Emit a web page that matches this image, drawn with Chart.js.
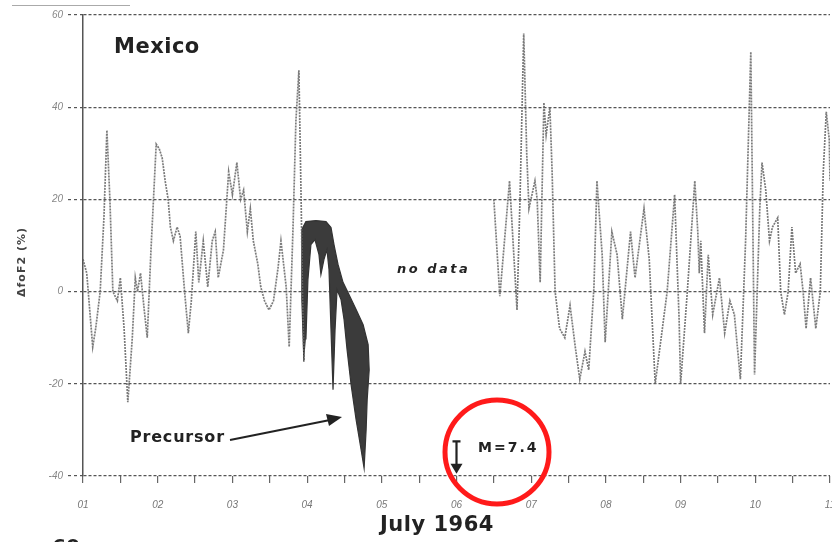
<!DOCTYPE html>
<html>
<head>
<meta charset="utf-8">
<script src="https://cdn.jsdelivr.net/npm/chart.js@4.4.1/dist/chart.umd.min.js"></script>
<style>
  html, body { margin: 0; padding: 0; background: #fff; }
  #wrap { width: 832px; height: 542px; }
</style>
</head>
<body>
<div id="wrap"><canvas id="chart" width="832" height="542"></canvas></div>
<script>
// Day of July 1964 (1 = 01 July 00h) and foF2 deviation in %
const leftDays = [1.00, 1.05, 1.13, 1.17, 1.23, 1.28, 1.32, 1.36, 1.40, 1.46, 1.50, 1.55, 1.60, 1.66, 1.70, 1.73, 1.77, 1.82, 1.86, 1.91,
  1.98, 2.02, 2.06, 2.10, 2.14, 2.17, 2.21, 2.26, 2.30, 2.36, 2.41, 2.45, 2.51, 2.55, 2.61, 2.67, 2.73, 2.77, 2.81, 2.88,
  2.95, 3.00, 3.06, 3.11, 3.15, 3.20, 3.24, 3.28, 3.34, 3.38, 3.43, 3.49, 3.55, 3.61, 3.65, 3.72, 3.76, 3.81, 3.85, 3.89,
  3.92, 3.94, 3.96];
const leftValues = [7, 4, -12, -8, 0, 16, 35, 20, 0, -2, 3, -8, -24, -10, 3, 0, 4, -4, -10, 9,
  32, 31, 29, 24, 20, 14, 11, 14, 12, 0, -9, -2, 13, 2, 11, 1, 11, 13, 3, 9,
  26, 21, 28, 20, 22, 13, 18, 11, 6, 1, -2, -4, -2, 5, 11, 1, -12, 13, 37, 48,
  20, -2, -15];

const rightDays = [6.50, 6.58, 6.71, 6.81, 6.85, 6.90, 6.94, 6.97, 7.05, 7.08, 7.12, 7.17, 7.20, 7.25, 7.28, 7.32, 7.38, 7.45, 7.52, 7.59,
  7.65, 7.72, 7.77, 7.84, 7.88, 7.95, 7.99, 8.08, 8.15, 8.22, 8.33, 8.39, 8.51, 8.58, 8.66, 8.82, 8.92, 8.98, 9.00, 9.09,
  9.19, 9.23, 9.25, 9.27, 9.32, 9.37, 9.43, 9.52, 9.59, 9.66, 9.72, 9.80, 9.87, 9.94, 9.99, 10.06, 10.09, 10.14, 10.19, 10.23,
  10.30, 10.34, 10.39, 10.44, 10.49, 10.54, 10.60, 10.64, 10.68, 10.74, 10.81, 10.87, 10.91, 10.95, 10.99, 11.00];
const rightValues = [20, -1, 24, -4, 20, 56, 30, 18, 24, 20, 2, 41, 34, 40, 26, 0, -8, -10, -3, -12,
  -19, -13, -17, 1, 24, 8, -11, 13, 8, -6, 13, 3, 18, 7, -20, 0, 21, -6, -20, 0,
  24, 13, 4, 11, -9, 8, -5, 3, -9, -2, -5, -19, 11, 52, -18, 18, 28, 22, 11, 14,
  16, 0, -5, 0, 14, 4, 6, 0, -8, 3, -8, 0, 26, 39, 33, 24];

// outline of the shaded precursor anomaly
const precursorDays = [3.957, 3.930, 3.930, 3.984, 4.118, 4.253, 4.320, 4.360, 4.414, 4.481, 4.562, 4.656, 4.750, 4.817, 4.831,
  4.804, 4.790, 4.763, 4.723, 4.656, 4.589, 4.535, 4.495, 4.454, 4.401, 4.374, 4.347, 4.320, 4.293, 4.266, 4.226, 4.185,
  4.159, 4.105, 4.051, 4.011, 3.984];
const precursorValues = [-15.2, -1.7, 13.5, 15.2, 15.4, 15.2, 13.9, 10.2, 5.9, 2.0, -0.7, -3.9, -7.2, -11.5, -17.0,
  -23.5, -30.0, -38.3, -34.3, -27.8, -20.2, -12.6, -6.1, -1.7, 0.4, -8.3, -21.3, -8.3, 4.8, 9.1, 7.0, 3.7,
  8.0, 11.3, 10.2, 2.6, -10.4];

const quakeDay = 6.0;
const yTicks = [-40, -20, 0, 20, 40, 60];

const toPoints = (xs, ys) => xs.map((x, i) => ({ x: x, y: ys[i] }));

const lineStyle = {
  borderColor: "rgba(100, 100, 100, 0.85)",
  borderWidth: 1.7,
  borderDash: [2, 1],
  pointRadius: 0,
  tension: 0,
  fill: false,
};

const SANS = "'DejaVu Sans', Verdana, sans-serif";

function label(c, text, x, y, font, spacing) {
  c.font = font;
  c.letterSpacing = spacing + "px";
  c.fillText(text, x, y);
  c.letterSpacing = "0px";
}

const annotations = {
  id: "annotations",
  beforeDraw(chart) {
    const c = chart.ctx;
    c.save();
    c.fillStyle = "#fff";
    c.fillRect(0, 0, chart.width, chart.height);
    c.restore();
  },
  afterDraw(chart) {
    const c = chart.ctx;
    const xs = chart.scales.x;
    const ys = chart.scales.y;
    const px = (d) => xs.getPixelForValue(d);
    const py = (v) => ys.getPixelForValue(v);
    c.save();

    // scan edge line top-left
    c.strokeStyle = "#aaa";
    c.lineWidth = 1;
    c.beginPath();
    c.moveTo(12, 5.5);
    c.lineTo(130, 5.5);
    c.stroke();

    c.fillStyle = "#222";
    c.textBaseline = "middle";
    c.textAlign = "left";
    label(c, "Mexico", 114, 48, "bold 21px " + SANS, 0.5);
    label(c, "no data", 397, 270, "bold italic 13px " + SANS, 2.5);
    label(c, "Precursor", 130, 438, "bold 16px " + SANS, 0.8);

    // arrow to the precursor
    c.strokeStyle = "#222";
    c.lineWidth = 1.8;
    c.beginPath();
    c.moveTo(230, 440);
    c.lineTo(330, 420);
    c.stroke();
    c.beginPath();
    c.moveTo(342, 417);
    c.lineTo(326, 414);
    c.lineTo(329, 426);
    c.closePath();
    c.fill();

    // earthquake marker
    label(c, "M=7.4", 478, 448, "bold 14px " + SANS, 2);
    const qx = px(quakeDay);
    const top = py(-32.5);
    const tip = py(-39.5);
    c.lineWidth = 2.2;
    c.beginPath();
    c.moveTo(qx - 4, top);
    c.lineTo(qx + 4, top);
    c.moveTo(qx, top);
    c.lineTo(qx, tip - 8);
    c.stroke();
    c.beginPath();
    c.moveTo(qx - 6, tip - 10);
    c.lineTo(qx, tip);
    c.lineTo(qx + 6, tip - 10);
    c.closePath();
    c.fill();

    // red circle
    c.strokeStyle = "#ff1a1a";
    c.lineWidth = 5;
    c.beginPath();
    c.arc(497, 452, 52, 0, Math.PI * 2);
    c.stroke();

    // axis titles
    c.fillStyle = "#222";
    c.textAlign = "center";
    label(c, "July 1964", 437, 526, "bold 21px " + SANS, 0.5);

    c.save();
    c.translate(22, 262);
    c.rotate(-Math.PI / 2);
    c.fillStyle = "#444";
    label(c, "\u0394foF2 (%)", 0, 0, "bold 11px " + SANS, 1);
    c.restore();

    // cropped label of the figure below
    c.fillStyle = "#222";
    c.textAlign = "left";
    c.textBaseline = "alphabetic";
    label(c, "60", 52, 553, "bold 20px " + SANS, 0);

    c.restore();
  },
};

new Chart(document.getElementById("chart"), {
  type: "line",
  data: {
    datasets: [
      Object.assign({ data: toPoints(leftDays, leftValues) }, lineStyle),
      Object.assign({ data: toPoints(rightDays, rightValues) }, lineStyle),
      {
        data: toPoints(precursorDays, precursorValues),
        borderColor: "#333",
        backgroundColor: "#3b3b3b",
        borderWidth: 1.2,
        pointRadius: 0,
        tension: 0,
        fill: "shape",
      },
    ],
  },
  options: {
    responsive: false,
    animation: false,
    devicePixelRatio: 1,
    layout: { padding: { left: 0, right: 2, top: 15, bottom: 0 } },
    plugins: {
      legend: { display: false },
      tooltip: { enabled: false },
    },
    scales: {
      x: {
        type: "linear",
        min: 1,
        max: 11,
        afterFit: (s) => { s.height = 66; s.paddingLeft = 0; s.paddingRight = 0; },
        afterBuildTicks: (s) => {
          const t = [];
          for (let d = 1; d <= 11; d += 0.5) t.push({ value: d });
          s.ticks = t;
        },
        ticks: {
          autoSkip: false,
          maxRotation: 0,
          padding: 16,
          color: "#777",
          font: { size: 10, style: "italic", family: "'Liberation Sans', Arial" },
          callback: (v) => (Number.isInteger(v) ? String(v).padStart(2, "0") : ""),
        },
        grid: { drawOnChartArea: false, tickLength: 7, color: "#666", lineWidth: 1.2 },
        border: { display: false },
      },
      y: {
        min: -40,
        max: 60,
        afterFit: (s) => { s.width = 83; s.paddingTop = 0; s.paddingBottom = 0; },
        afterBuildTicks: (s) => { s.ticks = yTicks.map((v) => ({ value: v })); },
        ticks: {
          padding: 5,
          color: "#888",
          font: { size: 10, style: "italic", family: "'Liberation Sans', Arial" },
        },
        grid: { color: "#555", lineWidth: 1.2, tickLength: 15, borderDash: [3, 3], tickBorderDash: [3, 3] },
        border: { display: true, color: "#555", width: 1.5, dash: [3, 2] },
      },
    },
  },
  plugins: [annotations],
});
</script>
</body>
</html>
